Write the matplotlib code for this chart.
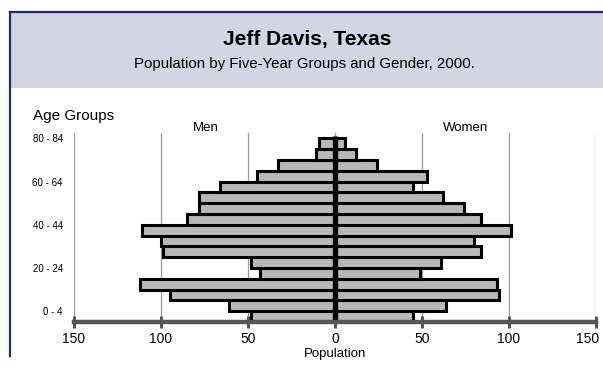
import matplotlib.pyplot as plt
from matplotlib.patches import Rectangle
from matplotlib.lines import Line2D
import matplotlib.transforms as mtransforms

plt.rcParams['font.family'] = ['Liberation Sans', 'DejaVu Sans']

# age groups, bottom (0 - 4) to top (80 - 84)
age_groups = ['0 - 4', '5 - 9', '10 - 14', '15 - 19', '20 - 24', '25 - 29', '30 - 34',
              '35 - 39', '40 - 44', '45 - 49', '50 - 54', '55 - 59', '60 - 64',
              '65 - 69', '70 - 74', '75 - 79', '80 - 84']
men = [48, 61, 95, 112, 43, 48, 99, 100, 111, 85, 78, 78, 66, 45, 33, 11, 9]
women = [45, 64, 94, 93, 49, 61, 84, 80, 101, 84, 74, 62, 45, 53, 24, 12, 6]
label_every = 4
x_ticks = [-150, -100, -50, 0, 50, 100, 150]

fig = plt.figure(figsize=(6.03, 3.69), dpi=100)
W, H = 603.0, 369.0

# header box and frame
fig.patches.append(Rectangle((10 / W, 1 - 88 / H), 1, (88 - 12) / H, transform=fig.transFigure,
                             facecolor='#d3d5e3', edgecolor='none', zorder=0))
fig.lines.append(Line2D([10 / W, 1], [1 - 12 / H, 1 - 12 / H], transform=fig.transFigure,
                        color='#1f2d6b', lw=1.6))
fig.lines.append(Line2D([10 / W, 10 / W], [1 - 12 / H, 1 - 356 / H], transform=fig.transFigure,
                        color='#1f2d6b', lw=1.6))

fig.text(307 / W, 1 - 40 / H, 'Jeff Davis, Texas', ha='center', va='center',
         fontsize=15, fontweight='bold')
fig.text(304 / W, 1 - 64 / H, 'Population by Five-Year Groups and Gender, 2000.',
         ha='center', va='center', fontsize=10.8)
fig.text(33 / W, 1 - 116 / H, 'Age Groups', ha='left', va='center', fontsize=11)

ax = fig.add_axes([74 / W, 1 - 322 / H, 522 / W, 189 / H])
y = list(range(len(age_groups)))

ax.barh(y, [-v for v in men], height=1, color='#b8b8b8', edgecolor='black', linewidth=2.2, zorder=3)
ax.barh(y, women, height=1, color='#b8b8b8', edgecolor='black', linewidth=2.2, zorder=3)
ax.vlines(0, -0.5, len(age_groups) - 0.3, color='black', lw=3.8, zorder=4)

for gx in x_ticks:
    ax.axvline(gx, color='#9a9a9a', lw=0.9, zorder=1)

ax.set_xlim(-150, 150)
ax.set_ylim(-0.5, 17.0)

ax.set_yticks([i + 0.5 for i in y[::label_every]])
ax.set_yticklabels(age_groups[::label_every], fontsize=7)
ax.tick_params(axis='y', length=0, pad=8)

ax.set_xticks(x_ticks)
ax.set_xticklabels([str(abs(v)) for v in x_ticks], fontsize=10)
ax.tick_params(axis='x', direction='inout', length=9, width=2.2, color='#555555', pad=3)
ax.set_xlabel('Population', fontsize=9.5, labelpad=1)

# last tick label sits a bit left of its tick in the reference
last = ax.get_xticklabels()[-1]
last.set_transform(last.get_transform() + mtransforms.ScaledTranslation(-6 / 72, 0, fig.dpi_scale_trans))

for s in ['top', 'left', 'right']:
    ax.spines[s].set_visible(False)
ax.spines['bottom'].set_color('#555555')
ax.spines['bottom'].set_linewidth(3.2)
ax.spines['bottom'].set_zorder(5)

ax.text(-74, 1.026, 'Men', transform=ax.get_xaxis_transform(), ha='center', va='center', fontsize=9.5)
ax.text(75, 1.026, 'Women', transform=ax.get_xaxis_transform(), ha='center', va='center', fontsize=9.5)

fig.savefig('out.png', dpi=100)
